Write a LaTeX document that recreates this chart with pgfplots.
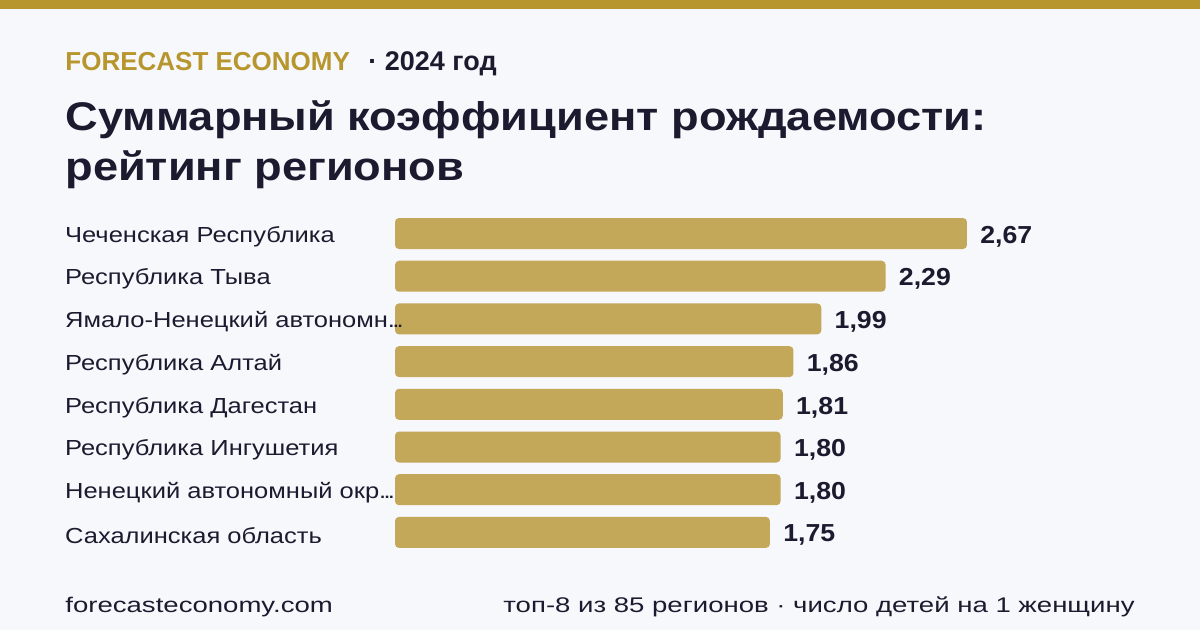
\documentclass[border=0pt]{standalone}
\usepackage{fontspec}
\setmainfont{Liberation Sans}
\newfontfamily\titlef[FakeStretch=1.13]{Liberation Sans}
\newfontfamily\labelf[FakeStretch=1.17]{Liberation Sans}
\newfontfamily\valf[FakeStretch=1.085]{Liberation Sans}
\newfontfamily\footf[FakeStretch=1.3]{Liberation Sans}
\usepackage{pgfplots}
\pgfplotsset{compat=1.18}
\definecolor{bgc}{HTML}{F7F8FC}
\definecolor{goldtop}{HTML}{B8962E}
\definecolor{barc}{HTML}{C4A85A}
\definecolor{dark}{HTML}{1B1B2F}
\newcommand{\tdots}{.\kern-1.4pt.\kern-1.4pt.}
\begin{document}
\begin{tikzpicture}
\useasboundingbox (0,0) rectangle (600pt,315pt);
\fill[bgc] (0,0) rectangle (600pt,315pt);
\fill[goldtop] (0,310.5pt) rectangle (600pt,315pt);
\node[anchor=base west, inner sep=0pt, text=goldtop, font=\bfseries\fontsize{13}{15}\selectfont] at (32.5pt,279.6pt) {FORECAST ECONOMY};
\node[anchor=base west, inner sep=0pt, text=dark, font=\bfseries\fontsize{13.5}{16}\selectfont] at (184pt,279.6pt) {· 2024 год};
\node[anchor=base west, inner sep=0pt, text=dark, font=\titlef\bfseries\fontsize{20}{22}\selectfont] at (32.5pt,249.5pt) {Суммарный коэффициент рождаемости:};
\node[anchor=base west, inner sep=0pt, text=dark, font=\titlef\bfseries\fontsize{20}{22}\selectfont] at (32.5pt,224.75pt) {рейтинг регионов};
\node[anchor=base west, inner sep=0pt, text=dark, font=\footf\fontsize{10.6}{13}\selectfont] at (32.5pt,8.65pt) {forecasteconomy.com};
\node[anchor=base east, inner sep=0pt, text=dark, font=\footf\fontsize{10.6}{13}\selectfont] at (567.5pt,8.65pt) {топ-8 из 85 регионов · число детей на 1 женщину};
\begin{axis}[
  at={(197.5pt,208.9pt)}, anchor=north west,
  scale only axis, width=374.9pt, height=170.8pt,
  axis on top,
  xbar, bar width=15.5pt,
  xmin=0, xmax=3.5, ymin=-0.5, ymax=7.5, y dir=reverse,
  axis lines=left, axis line style={draw=none}, tick style={draw=none},
  xtick=\empty, ytick={0,1,2,3,4,5,6,7},
  yticklabels={{Чеченская Республика}, {Республика Тыва}, {Ямало-Ненецкий автономн\tdots}, {Республика Алтай}, {Республика Дагестан}, {Республика Ингушетия}, {Ненецкий автономный окр\tdots}, {Сахалинская область}},
  yticklabel style={anchor=west, xshift=-163pt, yshift=-1.5pt, inner sep=0pt, text=dark, font=\labelf\fontsize{10.9}{13}\selectfont},
  point meta=x,
  nodes near coords,
  nodes near coords style={anchor=west, xshift=6.5pt, yshift=-1.5pt, inner sep=0pt, text=dark, font=\valf\bfseries\fontsize{12.3}{14}\selectfont},
  /pgf/number format/.cd, fixed, fixed zerofill, precision=2, use comma, assume math mode=true,
]
\addplot[fill=barc, draw=none, rounded corners=2pt] coordinates {
(2.67,0) (2.29,1) (1.99,2) (1.86,3) (1.81,4) (1.80,5) (1.80,6) (1.75,7)
};
\end{axis}
\end{tikzpicture}
\end{document}
